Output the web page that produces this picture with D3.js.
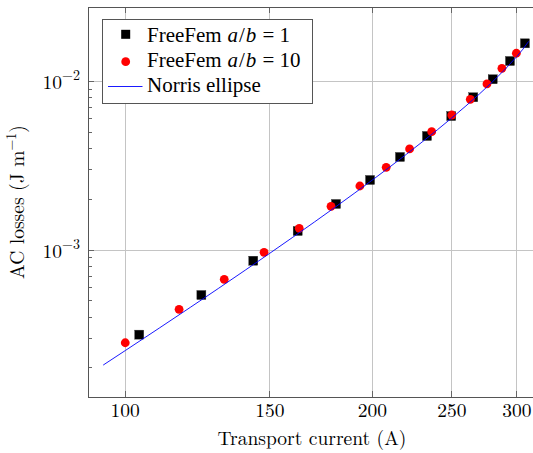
<!DOCTYPE html>
<html><head><meta charset="utf-8">
<script src="https://cdn.jsdelivr.net/npm/d3@7"></script>
<style>
body{margin:0;background:#fff}
svg{display:block}
</style>
</head><body>
<svg id="c" width="533" height="453"></svg>
<script>
// ---- data ----
const squareX = [104.0,123.8,143.2,162.2,180.6,198.7,216.1,233.1,249.5,265.4,280.3,294.2,306.8];
const squareY = [3.15e-4,5.41e-4,8.64e-4,1.296e-3,1.874e-3,2.60e-3,3.56e-3,4.74e-3,6.22e-3,8.04e-3,1.028e-2,1.319e-2,1.679e-2];
const circleX = [100,116.3,132.0,147.6,162.9,178.1,193.1,207.9,222.0,236.2,249.9,263.2,275.8,287.6,299.5];
const circleY = [2.82e-4,4.45e-4,6.70e-4,9.69e-4,1.345e-3,1.816e-3,2.395e-3,3.092e-3,3.97e-3,5.03e-3,6.31e-3,7.82e-3,9.64e-3,1.194e-2,1.466e-2];
const norrisX = [94,100,110,120,130,140,150,160,170,180,190,200,210,220,230,240,250,260,270,280,290,300,305,310];
const norrisY = [2.079e-4,2.534e-4,3.444e-4,4.569e-4,5.940e-4,7.593e-4,9.566e-4,1.1903e-3,1.4654e-3,1.7875e-3,2.1629e-3,2.5993e-3,3.1054e-3,3.6916e-3,4.3707e-3,5.1585e-3,6.0747e-3,7.1455e-3,8.4067e-3,9.9102e-3,1.17388e-2,1.40459e-2,1.5478e-2,1.7230e-2];
const xTicks = [100,150,200,250,300];
const yTicks = [1e-3,1e-2];
const yTickExp = ["−3","−2"];
const yMinorTicks = [2e-4,3e-4,4e-4,5e-4,6e-4,7e-4,8e-4,9e-4,2e-3,3e-3,4e-3,5e-3,6e-3,7e-3,8e-3,9e-3];
const xDomain = [90.08, 314.7];
const yDomain = [1.345e-4, 0.02756];
const legendLabels = [["FreeFem ","a","/","b"," = 1"],["FreeFem ","a","/","b"," = 10"],["Norris ellipse"]];
const xLabel = "Transport current (A)";
const yLabelParts = ["AC losses (J m","−1",")"];

// ---- layout ----
const FONT = '"Latin Modern Roman", "CMU Serif", "Liberation Serif", serif';
const LFONT = '"Liberation Serif", "Times New Roman", serif';
const FS = 19.5, FSS = 14;
const L = 88, R = 534, T = 7, B = 397;
const svg = d3.select("#c");
const x = d3.scaleLog().domain(xDomain).range([L, R]);
const y = d3.scaleLog().domain(yDomain).range([B, T]);
const txt = (sel,f)=>sel.append("text").style("font-family",f||FONT).attr("fill","#000");

svg.append("defs").append("clipPath").attr("id","clip")
  .append("rect").attr("x",L).attr("y",T).attr("width",R-L).attr("height",B-T);

// grid
const grid = svg.append("g").attr("stroke","#c4c4c4").attr("stroke-width",1).attr("shape-rendering","crispEdges");
grid.selectAll(".gx").data(xTicks).join("line")
  .attr("x1",d=>x(d)).attr("x2",d=>x(d)).attr("y1",T).attr("y2",B);
grid.selectAll(".gy").data(yTicks).join("line")
  .attr("x1",L).attr("x2",R).attr("y1",d=>y(d)).attr("y2",d=>y(d));

// ticks
const tk = svg.append("g").attr("stroke","#666").attr("stroke-width",1).attr("shape-rendering","crispEdges");
tk.selectAll(".ymaj").data(yTicks).join("line")
  .attr("x1",L).attr("x2",L+6).attr("y1",d=>y(d)).attr("y2",d=>y(d));
tk.selectAll(".ymin").data(yMinorTicks).join("line")
  .attr("x1",L).attr("x2",L+4).attr("y1",d=>y(d)).attr("y2",d=>y(d));
tk.selectAll(".xb").data(xTicks).join("line")
  .attr("x1",d=>x(d)).attr("x2",d=>x(d)).attr("y1",B).attr("y2",B-6);
tk.selectAll(".xt").data(xTicks).join("line")
  .attr("x1",d=>x(d)).attr("x2",d=>x(d)).attr("y1",T).attr("y2",T+6);

// data
const plot = svg.append("g").attr("clip-path","url(#clip)");
const sq = 9;
plot.selectAll(".sq").data(squareX.map((v,i)=>[v,squareY[i]])).join("rect")
  .attr("x",d=>x(d[0])-sq/2).attr("y",d=>y(d[1])-sq/2).attr("width",sq).attr("height",sq)
  .attr("fill","#000").attr("stroke","#333").attr("stroke-width",0.4);
plot.selectAll(".ci").data(circleX.map((v,i)=>[v,circleY[i]])).join("circle")
  .attr("cx",d=>x(d[0])).attr("cy",d=>y(d[1])).attr("r",4.4)
  .attr("fill","#ff0000");
const line = d3.line().x(d=>x(d[0])).y(d=>y(d[1]));
plot.append("path").datum(norrisX.map((v,i)=>[v,norrisY[i]]))
  .attr("d",line).attr("fill","none").attr("stroke","#0000ff").attr("stroke-width",0.9);

// frame
svg.append("rect").attr("x",L).attr("y",T).attr("width",R-L).attr("height",B-T)
  .attr("fill","none").attr("stroke","#555").attr("stroke-width",1).attr("shape-rendering","crispEdges");

// tick labels
xTicks.forEach(v=>{
  txt(svg).attr("x",x(v)).attr("y",417).attr("text-anchor","middle").attr("font-size",FS).text(v);
});
yTicks.forEach((v,i)=>{
  const e = txt(svg).attr("x",80).attr("y",y(v)-1).attr("text-anchor","end").attr("font-size",FSS).text(yTickExp[i]);
  const w = e.node().getComputedTextLength();
  txt(svg).attr("x",80-w).attr("y",y(v)+7.5).attr("text-anchor","end").attr("font-size",FS).text("10");
});

// axis labels
txt(svg).attr("x",312).attr("y",445).attr("text-anchor","middle").attr("font-size",FS).text(xLabel);
const yg = svg.append("g").attr("transform","translate(24,202) rotate(-90)");
const yEls = yLabelParts.map((p,i)=>txt(yg).attr("font-size",i===1?FSS:FS).attr("y",i===1?-8.5:0).text(p));
const yW = yEls.map(e=>e.node().getComputedTextLength());
let cx = -(yW[0]+yW[1]+yW[2])/2;
yEls.forEach((e,i)=>{ e.attr("x",cx); cx += yW[i]; });

// legend
const lg = svg.append("g");
lg.append("rect").attr("x",102.5).attr("y",19.5).attr("width",210).attr("height",83.5)
  .attr("fill","#fff").attr("stroke","#555").attr("stroke-width",1).attr("shape-rendering","crispEdges");
lg.append("rect").attr("x",125.7-4.5).attr("y",34.3-4.5).attr("width",9).attr("height",9).attr("fill","#000");
lg.append("circle").attr("cx",125.7).attr("cy",61.7).attr("r",4.4).attr("fill","#ff0000");
lg.append("line").attr("x1",108).attr("x2",142.5).attr("y1",86.5).attr("y2",86.5).attr("stroke","#0000ff").attr("stroke-width",0.9);
const lb = [41.5,66.5,91.5];
// legend font: Times-like metrics keep the row boxes within the 25 px pitch
const probe = txt(lg,LFONT).attr("font-size",20).text("FreeFem");
const boxH = probe.node().getBBox().height;
probe.remove();
const LFS = Math.min(21, 20*24.2/boxH);
const gap = LFS*0.12;
legendLabels.forEach((parts,i)=>{
  let px = 147;
  parts.forEach(p=>{
    const e = txt(lg,LFONT).attr("x",px).attr("y",lb[i]).attr("font-size",LFS).attr("xml:space","preserve").style("white-space","pre").text(p);
    if (p==="a"||p==="b") e.attr("font-style","italic");
    px += e.node().getComputedTextLength() + (p.startsWith(" =") ? 0 : (p==="FreeFem " ? 0.5 : gap*0.4));
  });
});
</script>
</body></html>
